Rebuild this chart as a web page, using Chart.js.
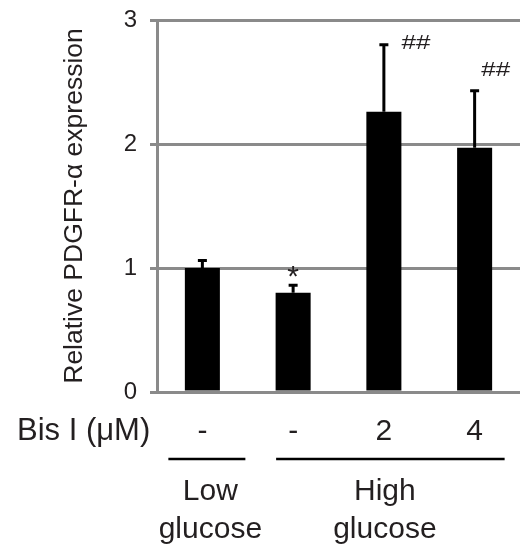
<!DOCTYPE html>
<html>
<head>
<meta charset="utf-8">
<script src="https://cdn.jsdelivr.net/npm/chart.js@4.4.0/dist/chart.umd.min.js"></script>
<style>
  html, body { margin: 0; padding: 0; background: #fff; }
  #wrap { width: 520px; height: 556px; }
</style>
</head>
<body>
<div id="wrap"><canvas id="myChart" width="520" height="556"></canvas></div>
<script>
// values
var doseLabels = ["-", "-", "2", "4"];
var means = [1.0, 0.8, 2.26, 1.97];
var errors = [0.06, 0.06, 0.54, 0.46];
var marks = ["", "*", "##", "##"];
var yTicks = [0, 1, 2, 3];

var FONT = "'Liberation Sans', Arial, sans-serif";
var GRAY = "#8a8a8a";
var INK = "#231f20";

var extras = {
  id: "extras",
  afterDatasetsDraw: function (chart) {
    var ctx = chart.ctx, x = chart.scales.x, y = chart.scales.y;
    ctx.save();
    // error bars (upper only)
    ctx.strokeStyle = "#000";
    ctx.lineWidth = 3;
    means.forEach(function (m, i) {
      var px = x.getPixelForValue(i);
      var top = y.getPixelForValue(m + errors[i]);
      ctx.beginPath();
      ctx.moveTo(px, y.getPixelForValue(m));
      ctx.lineTo(px, top);
      ctx.moveTo(px - 4.5, top);
      ctx.lineTo(px + 4.5, top);
      ctx.stroke();
    });
    // significance marks
    ctx.fillStyle = INK;
    ctx.textAlign = "center";
    ctx.textBaseline = "middle";
    var offs = [[0, 0], [0, -15], [32, -1], [21, -20]];
    marks.forEach(function (t, i) {
      if (!t) return;
      var px = x.getPixelForValue(i) + offs[i][0];
      var py = y.getPixelForValue(means[i] + errors[i]) + offs[i][1];
      ctx.save();
      ctx.translate(px, py);
      if (t === "*") {
        ctx.font = "30px " + FONT;
        ctx.fillText(t, 0, 7);
      } else {
        ctx.scale(1.3, 1);
        ctx.font = "20px " + FONT;
        ctx.fillText(t, 0, 0);
      }
      ctx.restore();
    });
    // row label
    ctx.font = "31px " + FONT;
    ctx.textAlign = "left";
    ctx.fillText("Bis I (\u03bcM)", 17, 431);
    // group lines
    ctx.strokeStyle = "#000";
    ctx.lineWidth = 2.5;
    ctx.beginPath();
    ctx.moveTo(x.getPixelForValue(0) - 34, 459);
    ctx.lineTo(x.getPixelForValue(0) + 43, 459);
    ctx.moveTo(x.getPixelForValue(1) - 17, 459);
    ctx.lineTo(x.getPixelForValue(3) + 30, 459);
    ctx.stroke();
    // group labels
    ctx.font = "30px " + FONT;
    ctx.textAlign = "center";
    var lowX = x.getPixelForValue(0) + 8;
    var highX = x.getPixelForValue(2) + 1;
    ctx.fillText("Low", lowX, 492);
    ctx.fillText("glucose", lowX, 530);
    ctx.fillText("High", highX, 492);
    ctx.fillText("glucose", highX, 530);
    ctx.restore();
  }
};

new Chart(document.getElementById("myChart"), {
  type: "bar",
  data: {
    labels: doseLabels,
    datasets: [{
      data: means,
      backgroundColor: "#000",
      borderWidth: 0,
      categoryPercentage: 1,
      barPercentage: 0.386
    }]
  },
  options: {
    responsive: false,
    animation: false,
    devicePixelRatio: 1,
    layout: { padding: { top: 20, right: 0, bottom: 0, left: 0 } },
    plugins: { legend: { display: false }, tooltip: { enabled: false } },
    scales: {
      x: {
        grid: { display: false },
        border: { display: false },
        ticks: { color: INK, font: { family: FONT, size: 30 }, padding: 14, maxRotation: 0 },
        afterFit: function (s) { s.height = 164; s.paddingLeft = 0; s.paddingRight = 0; }
      },
      y: {
        min: 0,
        max: 3,
        afterBuildTicks: function (s) { s.ticks = yTicks.map(function (v) { return { value: v }; }); },
        grid: { color: GRAY, lineWidth: 3, tickLength: 7 },
        border: { display: true, color: GRAY, width: 3 },
        ticks: { color: INK, font: { family: FONT, size: 24 }, padding: 13 },
        title: {
          display: true,
          text: "Relative PDGFR-\u03b1 expression",
          color: INK,
          font: { family: FONT, size: 26.5 },
          padding: { top: 59, bottom: 0 }
        },
        afterFit: function (s) { s.width = 157; s.paddingTop = 0; s.paddingBottom = 0; }
      }
    }
  },
  plugins: [extras]
});
</script>
</body>
</html>
